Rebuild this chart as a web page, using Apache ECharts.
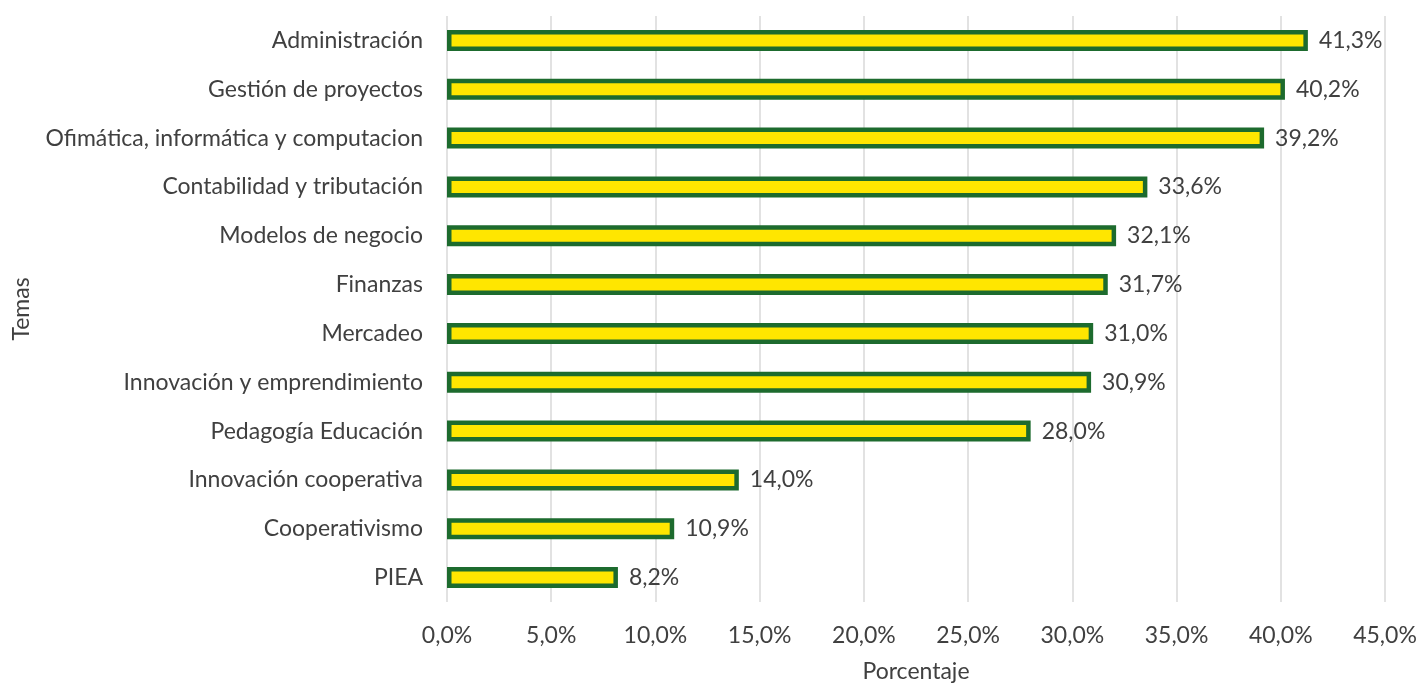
<!DOCTYPE html>
<html>
<head>
<meta charset="utf-8">
<script src="https://cdn.jsdelivr.net/npm/echarts@6/dist/echarts.min.js"></script>
<style>
  html, body { margin: 0; padding: 0; background: #ffffff; }
  #chart { width: 1419px; height: 683px; }
</style>
</head>
<body>
<div id="chart"></div>
<script>
// Topics, listed top to bottom
const categories = [
  'Administración',
  'Gestión de proyectos',
  'Ofimática, informática y computacion',
  'Contabilidad y tributación',
  'Modelos de negocio',
  'Finanzas',
  'Mercadeo',
  'Innovación y emprendimiento',
  'Pedagogía Educación',
  'Innovación cooperativa',
  'Cooperativismo',
  'PIEA'
];
// Share of respondents per topic (%)
const values = [41.3, 40.2, 39.2, 33.6, 32.1, 31.7, 31.0, 30.9, 28.0, 14.0, 10.9, 8.2];

const fmt = v => v.toFixed(1).replace('.', ',') + '%';
const font = 'Lato, "Liberation Sans", Arial, sans-serif';
const fontSize = 23;
const textColor = '#404040';

const chart = echarts.init(document.getElementById('chart'));
chart.setOption({
  animation: false,
  grid: { left: 447, right: 34, top: 16, bottom: 81, containLabel: false, outerBoundsMode: 'none' },
  xAxis: {
    type: 'value',
    min: 0, max: 45, interval: 5,
    name: 'Porcentaje',
    nameLocation: 'middle',
    nameGap: 58,
    nameTextStyle: { fontFamily: font, fontSize: fontSize, color: textColor },
    axisLine: { show: false },
    axisTick: { show: false },
    axisLabel: { formatter: v => fmt(v), fontFamily: font, fontSize: fontSize, color: textColor, margin: 22 },
    splitLine: { lineStyle: { color: '#d9d9d9', width: 1.5 } }
  },
  yAxis: {
    type: 'category',
    data: categories.slice().reverse(),
    name: 'Temas',
    nameLocation: 'middle',
    nameGap: 414,
    nameRotate: 90,
    nameTextStyle: { fontFamily: font, fontSize: fontSize, color: textColor },
    axisLine: { show: false },
    axisTick: { show: false },
    axisLabel: { fontFamily: font, fontSize: fontSize, color: textColor, margin: 24 }
  },
  series: [{
    type: 'bar',
    data: values.slice().reverse(),
    barWidth: 21,
    itemStyle: { color: '#ffe600', borderColor: '#1d6b2e', borderWidth: 4.5 },
    label: {
      show: true, position: 'right', distance: 11,
      formatter: p => fmt(p.value),
      fontFamily: font, fontSize: fontSize, color: textColor
    }
  }]
});
</script>
</body>
</html>
